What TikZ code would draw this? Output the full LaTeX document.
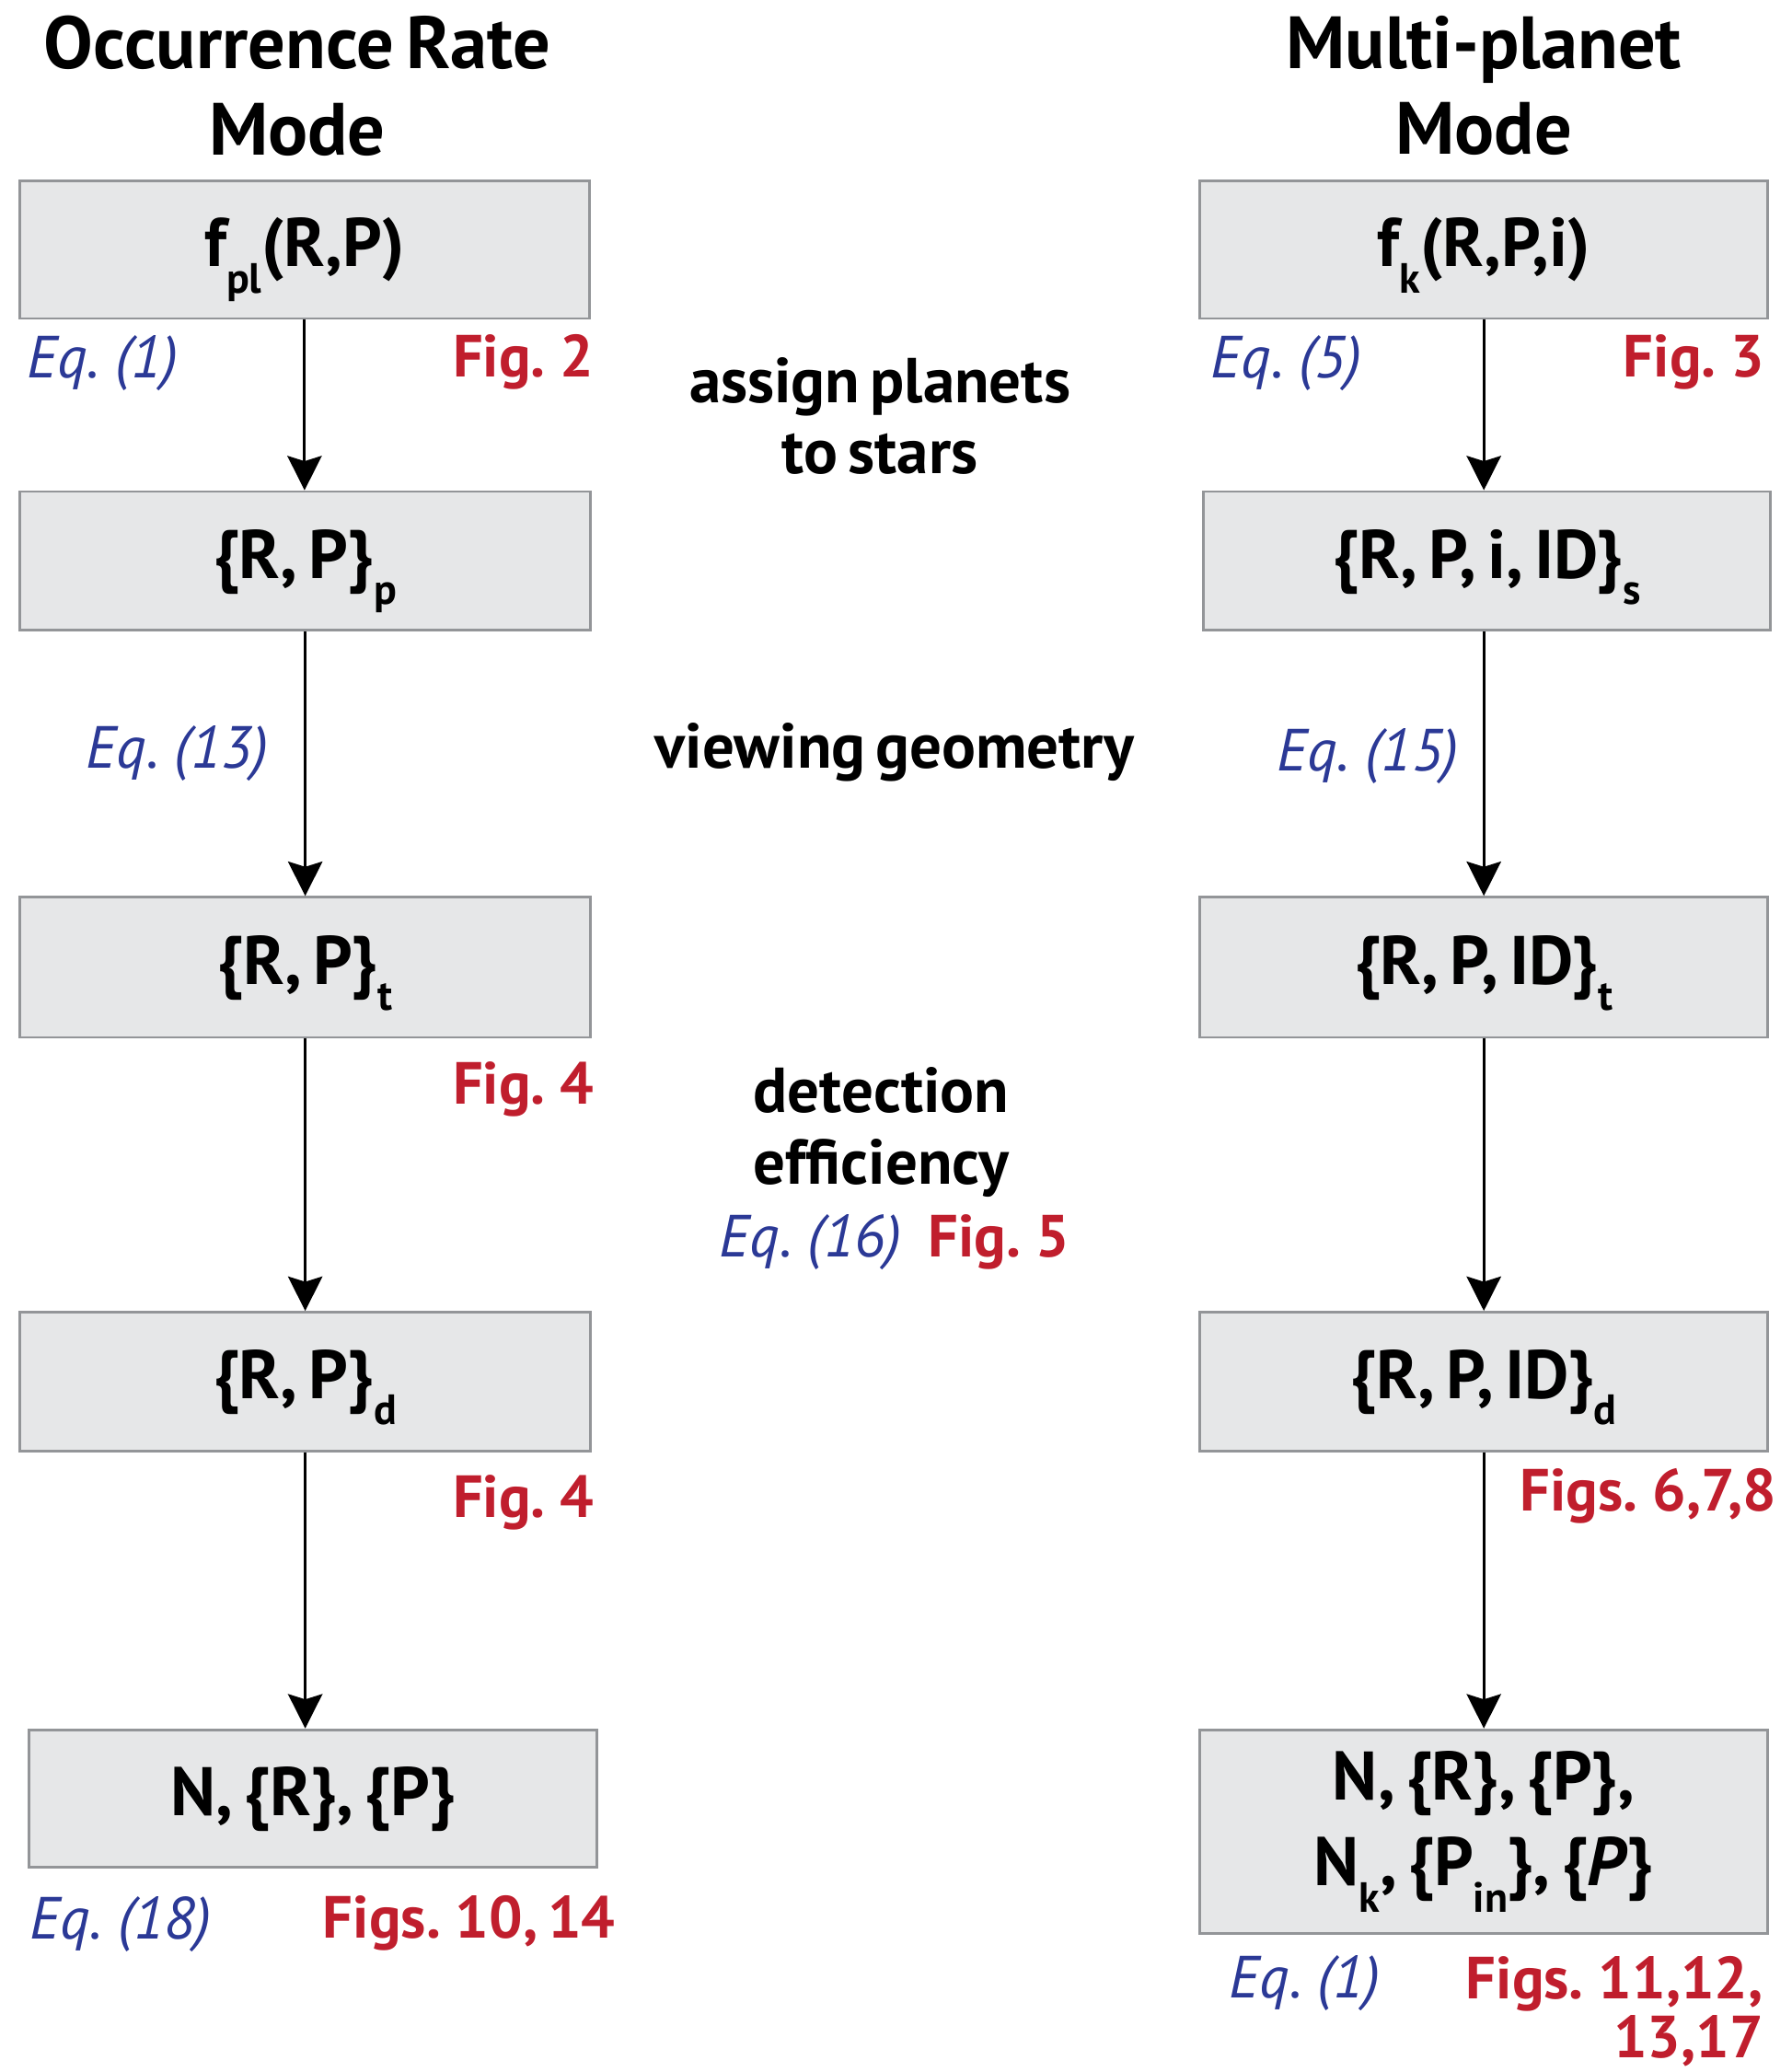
\documentclass[tikz,border=0pt]{standalone}
\usepackage{fontspec}
\setmainfont{PT Sans}[WordSpace=0.65]
\usetikzlibrary{arrows.meta}
\definecolor{eqblue}{RGB}{43,57,150}
\definecolor{figred}{RGB}{192,30,45}
\definecolor{boxfill}{RGB}{230,231,232}
\definecolor{boxline}{RGB}{147,149,152}
\newcommand{\lsub}[1]{\raisebox{-0.38em}{\fontsize{16}{16}\selectfont #1}}
\tikzset{
  box/.style={draw=boxline, fill=boxfill, line width=1pt, rectangle, inner sep=0pt,
    font=\fontsize{26}{32}\selectfont\bfseries, align=center},
  onebox/.style={box, text height=19pt, text depth=6pt},
  title/.style={font=\fontsize{28}{32.5}\selectfont\bfseries, align=center, inner sep=0pt},
  eqlab/.style={text=eqblue, font=\fontsize{22.5}{24}\selectfont\itshape, inner sep=0pt},
  figlab/.style={text=figred, font=\fontsize{22.5}{24}\selectfont\bfseries, inner sep=0pt},
  midlab/.style={font=\fontsize{24}{27}\selectfont\bfseries, align=center, inner sep=0pt},
  arr/.style={line width=1.1pt, -{Stealth[length=13pt, width=13pt, inset=2pt]}}
}
\begin{document}
\begin{tikzpicture}[x=0.5pt, y=-0.5pt]
\useasboundingbox (0,0) rectangle (1356,1568);
% titles
\node[title] (t1) at (225,65) {Occurrence Rate\\Mode};
\node[title] (t2) at (1123,65) {Multi-planet\\Mode};
% left boxes
\node[onebox, minimum width=215.5pt, minimum height=52pt] (L1) at (230.5,189) {f\lsub{pl}(R,P)};
\node[onebox, minimum width=216pt, minimum height=52.5pt] (L2) at (231,424.5) {\{R, P\}\lsub{p}};
\node[onebox, minimum width=216pt, minimum height=53pt] (L3) at (231,732) {\{R, P\}\lsub{t}};
\node[onebox, minimum width=216pt, minimum height=52.5pt] (L4) at (231,1045.5) {\{R, P\}\lsub{d}};
\node[onebox, minimum width=215pt, minimum height=52pt] (L5) at (237,1361) {N, \{R\}, \{P\}};
% right boxes
\node[onebox, minimum width=215pt, minimum height=52pt] (R1) at (1123,189) {f\lsub{k}(R,P,i)};
\node[onebox, minimum width=214.5pt, minimum height=52.5pt] (R2) at (1125.5,424.5) {\{R, P, i, ID\}\lsub{s}};
\node[onebox, minimum width=215pt, minimum height=53pt] (R3) at (1123,732) {\{R, P, ID\}\lsub{t}};
\node[onebox, minimum width=215pt, minimum height=52.5pt] (R4) at (1123,1045.5) {\{R, P, ID\}\lsub{d}};
\node[box, minimum width=215pt, minimum height=77pt, font=\fontsize{26}{32.5}\selectfont\bfseries] (R5) at (1123,1386) {N, \{R\}, \{P\},\\N\lsub{k}, \{P\lsub{in}\}, \{\textit{P}\}};
% arrows
\draw[arr] (L1.south) -- (L1.south |- L2.north);
\draw[arr] (L2.south) -- (L2.south |- L3.north);
\draw[arr] (L3.south) -- (L3.south |- L4.north);
\draw[arr] (L4.south) -- (L4.south |- L5.north);
\draw[arr] (R1.south) -- (R1.south |- R2.north);
\draw[arr] (R1.south |- R2.south) -- (R1.south |- R3.north);
\draw[arr] (R3.south) -- (R4.north);
\draw[arr] (R4.south) -- (R5.north);
% left labels
\node[eqlab, anchor=west] (e1) at (20,275) {Eq. (1)};
\node[figlab, anchor=east] (f2) at (450,274) {Fig. 2};
\node[eqlab, anchor=west] (e13) at (65,570) {Eq. (13)};
\node[figlab, anchor=east] (f4a) at (450,824) {Fig. 4};
\node[figlab, anchor=east] (f4b) at (450,1137) {Fig. 4};
\node[eqlab, anchor=west] (e18) at (22,1456) {Eq. (18)};
\node[figlab, anchor=east] (f1014) at (466,1455) {Figs. 10, 14};
% right labels
\node[eqlab, anchor=west] (e5) at (916,275) {Eq. (5)};
\node[figlab, anchor=east] (f3) at (1336,274) {Fig. 3};
\node[eqlab, anchor=west] (e15) at (966,572) {Eq. (15)};
\node[figlab, anchor=east] (f678) at (1345,1132) {Figs. 6,7,8};
\node[eqlab, anchor=west] (e1b) at (930,1501) {Eq. (1)};
\node[figlab, anchor=north east, align=right, font=\fontsize{22.5}{22.5}\selectfont\bfseries] (f11) at (1335,1480) {Figs. 11,12,\\13,17};
% middle labels
\node[midlab] (m1) at (666,315) {assign planets\\to stars};
\node[midlab] (m2) at (677,569) {viewing geometry};
\node[midlab] (m3) at (667,857) {detection\\efficiency};
\node[inner sep=0pt] (m4) at (677,940) {\fontsize{22.5}{24}\selectfont{\color{eqblue}\itshape Eq. (16)}\hspace{0.45em}{\color{figred}\bfseries Fig. 5}};
\end{tikzpicture}
\end{document}
